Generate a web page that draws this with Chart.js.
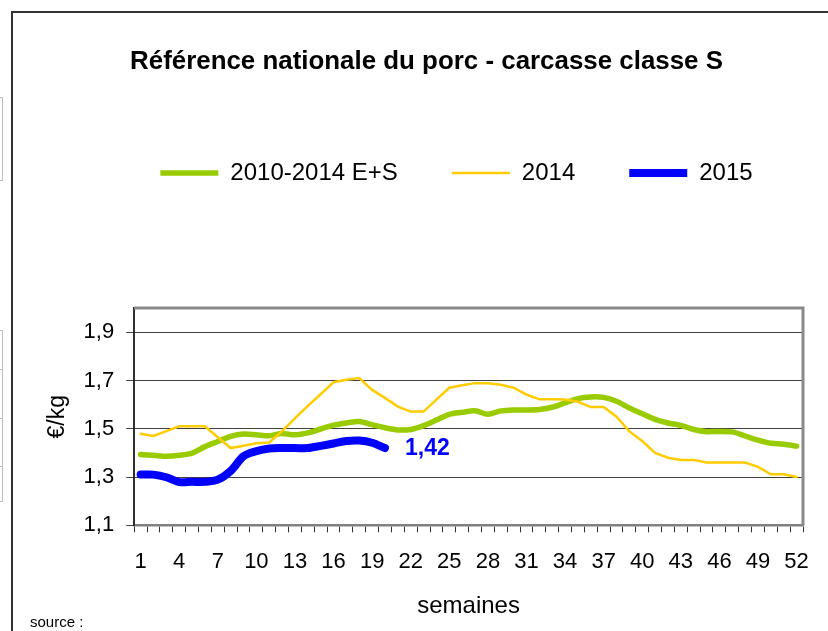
<!DOCTYPE html>
<html>
<head>
<meta charset="utf-8">
<script src="https://cdn.jsdelivr.net/npm/chart.js@4.4.0/dist/chart.umd.min.js"></script>
<style>
  html, body { margin: 0; padding: 0; background: #fff; }
  #wrap { position: relative; width: 828px; height: 631px; overflow: hidden; background: #fff; }
  #frame { position: absolute; left: 11px; top: 11px; width: 830px; height: 640px; border-left: 2px solid #333; border-top: 2px solid #333; }
  .side { position: absolute; left: -3px; width: 4px; border: 1px solid #bdbdbd; }
  #source { position: absolute; left: 30px; top: 613px; font: 15px "Liberation Sans", Arial, sans-serif; color: #000; }
  canvas { position: absolute; left: 0; top: 0; }
</style>
</head>
<body>
<div id="wrap">
  <div id="frame"></div>
  <div class="side" style="top:97px;height:82px"></div>
  <div class="side" style="top:330px;height:38px"></div>
  <div class="side" style="top:369px;height:48px"></div>
  <div class="side" style="top:418px;height:47px"></div>
  <div class="side" style="top:466px;height:34px"></div>
  <canvas id="porcChart" width="828" height="631"></canvas>
  <div id="source">source :</div>
</div>
<script>
const weeks = ['1', '2', '3', '4', '5', '6', '7', '8', '9', '10', '11', '12', '13',
    '14', '15', '16', '17', '18', '19', '20', '21', '22', '23', '24', '25', '26',
    '27', '28', '29', '30', '31', '32', '33', '34', '35', '36', '37', '38', '39',
    '40', '41', '42', '43', '44', '45', '46', '47', '48', '49', '50', '51', '52'];
const shownWeeks = ['1', '4', '7', '10', '13', '16', '19', '22', '25', '28', '31',
    '34', '37', '40', '43', '46', '49', '52'];

const yTickValues = [1.1, 1.3, 1.5, 1.7, 1.9];
const yTickLabels = ['1,1', '1,3', '1,5', '1,7', '1,9'];

// moyenne 2010-2014 E+S
const avg2010_2014 = [1.393, 1.39, 1.386, 1.39, 1.399, 1.426, 1.447, 1.468, 1.478, 1.475,
    1.471, 1.48, 1.475, 1.483, 1.499, 1.515, 1.524, 1.53, 1.517, 1.504,
    1.495, 1.497, 1.513, 1.536, 1.56, 1.568, 1.575, 1.56, 1.574, 1.578,
    1.578, 1.58, 1.589, 1.607, 1.625, 1.632, 1.63, 1.614, 1.586, 1.562,
    1.539, 1.524, 1.514, 1.497, 1.488, 1.489, 1.487, 1.47, 1.453, 1.44,
    1.436, 1.428];

const prices2014 = [1.479, 1.47, 1.49, 1.51, 1.51, 1.51, 1.465, 1.42, 1.43, 1.44,
    1.443, 1.49, 1.543, 1.595, 1.643, 1.693, 1.703, 1.71, 1.661, 1.628,
    1.592, 1.571, 1.571, 1.621, 1.67, 1.68, 1.689, 1.689, 1.682, 1.67,
    1.642, 1.622, 1.622, 1.621, 1.612, 1.59, 1.59, 1.55, 1.489, 1.449,
    1.40, 1.38, 1.371, 1.371, 1.36, 1.36, 1.36, 1.36, 1.342, 1.311,
    1.311, 1.30];

const prices2015 = [1.31, 1.31, 1.299, 1.279, 1.28, 1.28, 1.289, 1.325, 1.386, 1.407,
    1.418, 1.42, 1.42, 1.42, 1.429, 1.439, 1.449, 1.451, 1.442, 1.42];

const FONT = '"Liberation Sans", Arial, sans-serif';

// extra space under the legend; title and legend nudged right like the original
const legendSpace = {
    id: 'legendSpace',
    beforeInit(chart) {
        const fit = chart.legend.fit;
        chart.legend.fit = function () {
            fit.bind(chart.legend)();
            this.height += 113;
        };
    },
    afterLayout(chart) {
        chart.legend.left += 33;
        chart.legend.right += 33;
        chart.titleBlock.left += 3;
        chart.titleBlock.right += 3;
    }
};

// grey frame on top and right of the plot area
const plotFrame = {
    id: 'plotFrame',
    beforeDatasetsDraw(chart) {
        const { ctx, chartArea: a } = chart;
        ctx.save();
        ctx.strokeStyle = '#8a8a8a';
        ctx.lineWidth = 3;
        ctx.beginPath();
        ctx.moveTo(a.left, a.top);
        ctx.lineTo(a.right, a.top);
        ctx.lineTo(a.right, a.bottom);
        ctx.stroke();
        ctx.restore();
    }
};

// last value of 2015 written next to the line
const lastValueLabel = {
    id: 'lastValueLabel',
    afterDatasetsDraw(chart) {
        const meta = chart.getDatasetMeta(2);
        const pt = meta.data[meta.data.length - 1];
        const v = prices2015[prices2015.length - 1];
        const ctx = chart.ctx;
        ctx.save();
        ctx.font = 'bold 23px ' + FONT;
        ctx.fillStyle = '#0000ff';
        ctx.textBaseline = 'middle';
        ctx.fillText(v.toFixed(2).replace('.', ','), pt.x + 20, pt.y + 1);
        ctx.restore();
    }
};

function initChart() {
    new Chart(document.getElementById('porcChart'), {
        type: 'line',
        data: {
            labels: weeks,
            datasets: [{
                label: '2010-2014 E+S',
                data: avg2010_2014,
                borderColor: '#99cc00',
                backgroundColor: '#99cc00',
                borderWidth: 5.5,
                borderCapStyle: 'round',
                tension: 0.3,
                order: 3
            }, {
                label: '2014',
                data: prices2014,
                borderColor: '#ffcc00',
                backgroundColor: '#ffcc00',
                borderWidth: 2.5,
                borderCapStyle: 'round',
                tension: 0,
                order: 2
            }, {
                label: '2015',
                data: prices2015,
                borderColor: '#0000ff',
                backgroundColor: '#0000ff',
                borderWidth: 8,
                borderCapStyle: 'round',
                tension: 0.3,
                order: 1
            }]
        },
        options: {
            responsive: false,
            animation: false,
            devicePixelRatio: 1,
            elements: { point: { radius: 0 } },
            layout: { padding: { left: 44, right: 25, top: 0, bottom: 10.5 } },
            plugins: {
                tooltip: { enabled: false },
                title: {
                    display: true,
                    text: 'Référence nationale du porc - carcasse classe S',
                    color: '#000',
                    font: { family: FONT, size: 25.9, weight: 'bold' },
                    padding: { top: 46, bottom: 30 }
                },
                legend: {
                    position: 'top',
                    labels: {
                        color: '#000',
                        font: { family: FONT, size: 24 },
                        usePointStyle: true,
                        pointStyle: 'line',
                        pointStyleWidth: 58,
                        padding: 54,
                        sort: (a, b) => a.datasetIndex - b.datasetIndex
                    }
                }
            },
            scales: {
                x: {
                    offset: true,
                    grid: {
                        offset: true,
                        drawOnChartArea: false,
                        drawTicks: true,
                        tickLength: 7,
                        color: '#333'
                    },
                    border: { color: '#808080', width: 2.5 },
                    ticks: {
                        autoSkip: false,
                        maxRotation: 0,
                        color: '#000',
                        padding: 16.5,
                        font: { family: FONT, size: 22 },
                        callback: (val, i) => shownWeeks.includes(weeks[i]) ? weeks[i] : ''
                    },
                    title: {
                        display: true,
                        text: 'semaines',
                        color: '#000',
                        font: { family: FONT, size: 24 },
                        padding: { top: 0, bottom: 0 }
                    }
                },
                y: {
                    min: 1.1,
                    max: 2.0,
                    afterBuildTicks: axis => {
                        axis.ticks = yTickValues.map(v => ({ value: v }));
                    },
                    grid: {
                        color: '#404040',
                        lineWidth: 1,
                        tickLength: 8,
                        tickColor: '#404040'
                    },
                    border: { color: '#303030', width: 2 },
                    ticks: {
                        color: '#000',
                        padding: 12,
                        font: { family: FONT, size: 22 },
                        callback: (val, i) => yTickLabels[i]
                    },
                    title: {
                        display: true,
                        text: '€/kg',
                        color: '#000',
                        font: { family: FONT, size: 23 },
                        padding: { top: 0, bottom: 0 }
                    }
                }
            }
        },
        plugins: [legendSpace, plotFrame, lastValueLabel]
    });
}

document.addEventListener('DOMContentLoaded', initChart);
</script>
</body>
</html>
